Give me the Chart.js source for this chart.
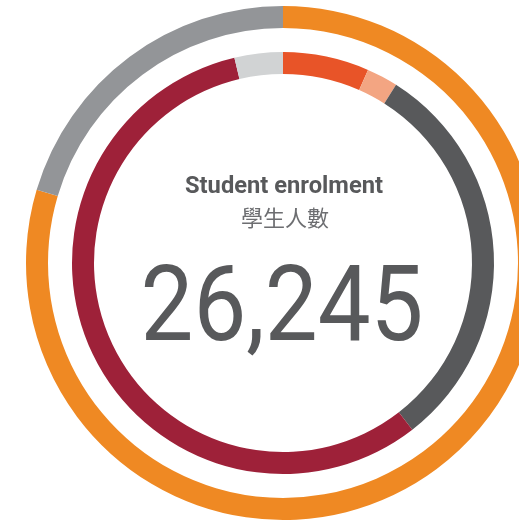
<!DOCTYPE html>
<html>
<head>
<meta charset="utf-8">
<script src="https://cdn.jsdelivr.net/npm/chart.js@4/dist/chart.umd.min.js"></script>
<style>
  html, body { margin: 0; padding: 0; background: #fff; }
  #wrap { width: 519px; height: 524px; overflow: hidden; position: relative; }
  #chart { position: absolute; left: 0; top: 0; }
</style>
</head>
<body>
<div id="wrap"><canvas id="chart" width="566" height="526"></canvas></div>
<script>
// outer ring (share of students, %)
var outerLabels = ['Group A', 'Group B'];
var outerShares = [79.6, 20.4];
var outerColors = ['#EF8923', '#939598'];

// inner ring (share of students, %)
var innerLabels = ['Part 1', 'Part 2', 'Part 3', 'Part 4', 'Part 5'];
var innerShares = [6.6, 2.4, 30.5, 56.8, 3.7];
var innerColors = ['#E85428', '#F3A582', '#58595B', '#9E2139', '#D1D3D4'];

var titleEn = 'Student enrolment';
var titleZh = '學生人數';
var total = '26,245';

// draws text squeezed/stretched to a given width
function fitText(ctx, text, x, y, w) {
  var m = ctx.measureText(text).width;
  ctx.save();
  ctx.translate(x, y);
  ctx.scale(w / m, 1);
  ctx.fillText(text, 0, 0);
  ctx.restore();
}

var centerText = {
  id: 'centerText',
  afterDraw: function (chart) {
    var ctx = chart.ctx;
    var a = chart.chartArea;
    var cx = (a.left + a.right) / 2;
    ctx.save();
    ctx.textAlign = 'center';
    ctx.textBaseline = 'alphabetic';
    ctx.fillStyle = '#58595B';
    ctx.font = 'bold 23px Roboto';
    fitText(ctx, titleEn, cx + 1, 193, 198);
    ctx.fillStyle = '#6D6E71';
    ctx.font = '22px "Noto Sans CJK TC"';
    ctx.textBaseline = 'middle';
    ctx.fillText(titleZh, cx + 2, 218);
    ctx.textBaseline = 'alphabetic';
    ctx.fillStyle = '#58595B';
    ctx.font = '105px Roboto';
    fitText(ctx, total, cx - 1, 340, 283);
    ctx.restore();
  }
};

var chart = new Chart('chart', {
  type: 'doughnut',
  data: {
    labels: innerLabels,
    datasets: [
      {
        data: outerShares,
        labels: outerLabels,
        backgroundColor: outerColors,
        borderWidth: 0,
        weight: 22
      },
      {
        data: [1],
        backgroundColor: 'rgba(0,0,0,0)',
        borderWidth: 0,
        weight: 24
      },
      {
        data: innerShares,
        backgroundColor: innerColors,
        borderWidth: 0,
        weight: 22
      }
    ]
  },
  options: {
    responsive: false,
    animation: false,
    cutout: 189,
    layout: { padding: 6 },
    plugins: {
      legend: { display: false },
      tooltip: { enabled: false }
    }
  },
  plugins: [centerText]
});
</script>
</body>
</html>
